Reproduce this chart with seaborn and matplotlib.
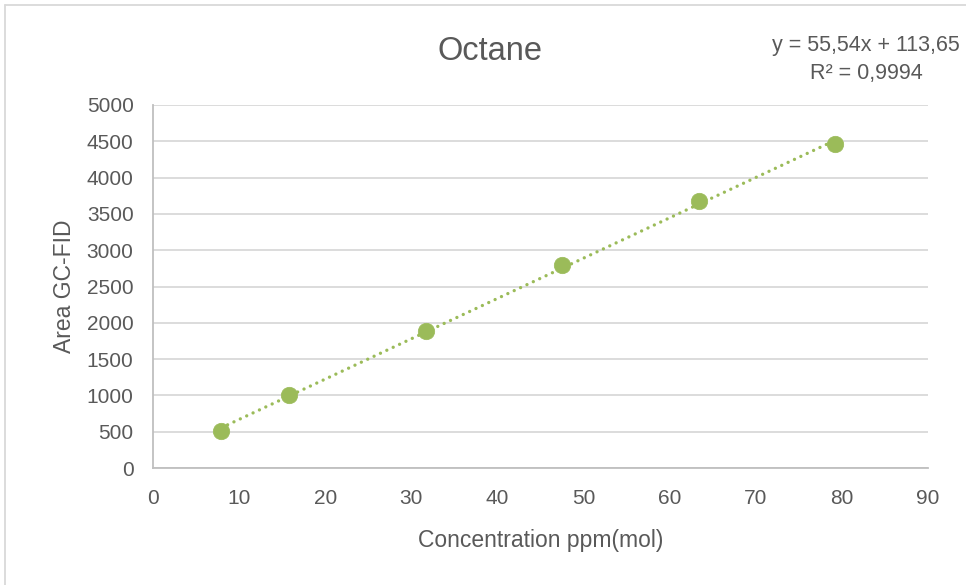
import matplotlib
matplotlib.use("Agg")
import matplotlib.pyplot as plt
import seaborn as sns
import numpy as np
import pandas as pd
from matplotlib.lines import Line2D

# Data
concentration = [7.92, 15.84, 31.68, 47.52, 63.36, 79.2]
area = [505, 1000, 1887, 2790, 3675, 4460]
slope = 55.54
intercept = 113.65
r_squared_label = "R² = 0,9994"
equation_label = "y = 55,54x + 113,65"
title = "Octane"
x_label = "Concentration ppm(mol)"
y_label = "Area GC-FID"
x_ticks = list(range(0, 100, 10))
y_ticks = list(range(0, 5500, 500))

sns.set_theme(style="white")
plt.rcParams['font.family'] = ['Liberation Sans Narrow', 'Liberation Sans', 'DejaVu Sans']

green = "#9BBB59"
text_col = "#595959"

fig = plt.figure(figsize=(9.66, 5.85), dpi=100)
ax = fig.add_axes([153/966, 1 - 468/585, (928 - 153)/966, (468 - 105)/585])

df = pd.DataFrame({"x": concentration, "y": area})

# trendline
xt = np.array([min(concentration), max(concentration)])
yt = slope * xt + intercept
ax.plot(xt, yt, color=green, lw=2.4, linestyle=(0, (0.01, 2.1)),
        dash_capstyle='round', zorder=2)

sns.scatterplot(data=df, x="x", y="y", ax=ax, color=green, s=140,
                edgecolor=green, linewidth=0.5, zorder=3, legend=False)

ax.set_xlim(0, 90)
ax.set_ylim(0, 5000)
ax.set_xticks(x_ticks)
ax.set_yticks(y_ticks)
ax.yaxis.grid(True, color="#D9D9D9", lw=1.3)
ax.xaxis.grid(False)
ax.set_axisbelow(True)
for s in ["top", "right"]:
    ax.spines[s].set_visible(False)
for s in ["left", "bottom"]:
    ax.spines[s].set_color("#BFBFBF")
    ax.spines[s].set_linewidth(1.3)
ax.tick_params(axis="both", length=0, labelsize=15, colors=text_col)
ax.tick_params(axis="x", pad=15)
ax.tick_params(axis="y", pad=14)

ax.set_xlabel(x_label, fontsize=16.5, color=text_col, labelpad=15)
ax.set_ylabel(y_label, fontsize=16.5, color=text_col, labelpad=8)

fig.text(490/966, 1 - 52/585, title, ha="center", va="center", fontsize=23.5, color=text_col)
fig.text(866/966, 1 - 45/585, equation_label, ha="center", va="center", fontsize=15.5, color=text_col)
fig.text(866/966, 1 - 73/585, r_squared_label, ha="center", va="center", fontsize=15.5, color=text_col)

# chart border
fig.add_artist(Line2D([5/966, 1.0], [1 - 5/585, 1 - 5/585], color="#D9D9D9", lw=1.3, transform=fig.transFigure))
fig.add_artist(Line2D([5/966, 5/966], [0, 1 - 5/585], color="#D9D9D9", lw=1.3, transform=fig.transFigure))

fig.savefig("out.png", dpi=100, facecolor="white")
